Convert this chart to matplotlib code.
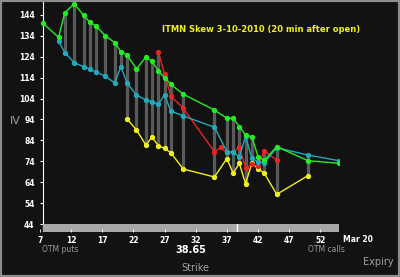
import matplotlib
matplotlib.use("Agg")
from matplotlib import pyplot as plt
from matplotlib.patches import Rectangle

# strike / IV, one list pair per series
green_k = [7.5, 10, 11, 12.5, 14, 15, 16, 17.5, 19, 20, 21, 22.5, 24, 25, 26, 27, 28, 30,
           35, 37, 38, 39, 40, 41, 42, 43, 45, 50, 55]
green_iv = [140.0, 133.3, 145.1, 149.3, 143.9, 140.5, 138.7, 134.1, 130.7, 126.4, 124.7, 118.2,
            123.8, 121.8, 117.3, 113.9, 110.8, 106.1, 98.5, 94.6, 94.6, 90.6, 86.5, 85.8,
            76.2, 74.5, 81.0, 74.3, 73.0]

cyan_k = [10, 11, 12.5, 14, 15, 16, 17.5, 19, 20, 21, 22.5, 24, 25, 26, 27, 28, 30,
          35, 37, 38, 39, 40, 41, 42, 43, 45, 50, 55]
cyan_iv = [131.4, 126.0, 121.2, 119.3, 118.0, 116.7, 114.7, 111.5, 119.3, 111.3, 105.7,
           103.3, 102.5, 101.3, 105.7, 98.1, 95.7, 90.3, 78.6, 78.3, 76.2, 86.0, 75.4,
           73.8, 73.3, 80.5, 77.0, 74.3]

red_k = [26, 27, 28, 30, 35, 36, 37, 38, 39, 40, 41, 42, 43, 45]
red_iv = [126.4, 115.8, 105.2, 99.4, 78.6, 80.6, 77.9, 78.3, 80.8, 70.8, 72.5, 71.8, 79.0, 74.6]

yellow_k = [21, 22.5, 24, 25, 26, 27, 28, 30, 35, 37, 38, 39, 40, 41, 42, 43, 45, 50]
yellow_iv = [94.2, 89.0, 81.8, 85.5, 81.5, 80.2, 78.1, 70.3, 66.5, 75.3, 68.3, 73.0, 63.3,
             73.0, 70.5, 68.3, 58.2, 67.1]

yticks = [44, 54, 64, 74, 84, 94, 104, 114, 124, 134, 144]
xticks = [7, 12, 17, 22, 27, 32, 37, 42, 47, 52]
spot = 38.65

bg = '#121212'
fig = plt.figure(figsize=(4, 2.77), dpi=100, facecolor=bg)
fig.patches.append(Rectangle((0, 0), 1, 1, transform=fig.transFigure, fill=False,
                             edgecolor='#8c8c8c', linewidth=3))

ax = fig.add_axes([0.0997, 0.1913, 0.748, 0.80], facecolor=bg)

# grey range bars: from lowest to highest IV at each strike
series = [(green_k, green_iv), (cyan_k, cyan_iv), (red_k, red_iv), (yellow_k, yellow_iv)]
vals = {}
for ks, ivs in series:
    for k, v in zip(ks, ivs):
        vals.setdefault(k, []).append(v)
for k, vs in vals.items():
    if len(vs) > 1:
        ax.vlines(k, min(vs), max(vs), color='#7a7a7a', linewidth=2.3, alpha=0.7, zorder=1)

ax.plot(yellow_k, yellow_iv, color='#f0f020', marker='o', markersize=2.8, linewidth=1, zorder=3)
ax.plot(red_k, red_iv, color='#ee2222', marker='o', markersize=2.8, linewidth=1, zorder=4)
ax.plot(cyan_k, cyan_iv, color='#22aabb', marker='o', markersize=2.8, linewidth=1, zorder=5)
ax.plot(green_k, green_iv, color='#22ee22', marker='o', markersize=2.8, linewidth=1, zorder=6)

ax.set_xlim(7, 55)
ax.set_ylim(44, 150)
for s in ['top', 'right', 'bottom']:
    ax.spines[s].set_visible(False)
ax.spines['left'].set_position(('data', 7.5))
ax.spines['left'].set_color('white')
ax.set_xticks([])
ax.set_yticks(yticks)
ax.tick_params(axis='y', colors='white', length=2, width=0.8, labelsize=5.5, pad=4)
for t in ax.get_yticklabels():
    t.set_fontweight('bold')

# strike strip under the plot
sx = fig.add_axes([0.0997, 0.1614, 0.748, 0.029])
sx.set_facecolor('none')
sx.axvspan(7.5, 55, color='#a8a8a8')
sx.axvline(spot, color='white', linewidth=1)
sx.set_xlim(7, 55)
sx.set_ylim(0, 1)
sx.set_yticks([])
for s in sx.spines.values():
    s.set_visible(False)
sx.set_xticks(xticks)
sx.tick_params(axis='x', colors='white', direction='in', length=2, width=0.6,
               labelsize=5.5, pad=3)
for t in sx.get_xticklabels():
    t.set_fontweight('bold')

fig.text(358 / 400, 1 - 239 / 277, 'Mar 20', color='white', fontsize=5.5, fontweight='bold',
         ha='center', va='center')
fig.text(60 / 400, 1 - 250 / 277, 'OTM puts', color='#9a9a9a', fontsize=5.5,
         ha='center', va='center')
fig.text(326 / 400, 1 - 250 / 277, 'OTM calls', color='#9a9a9a', fontsize=5.5,
         ha='center', va='center')
fig.text(191 / 400, 1 - 250 / 277, '38.65', color='white', fontsize=7, fontweight='bold',
         ha='center', va='center')
fig.text(195 / 400, 1 - 268 / 277, 'Strike', color='#a0a0a0', fontsize=7,
         ha='center', va='center')
fig.text(378 / 400, 1 - 262 / 277, 'Expiry', color='#a0a0a0', fontsize=7,
         ha='center', va='center')
fig.text(15 / 400, 1 - 121 / 277, 'IV', color='#a0a0a0', fontsize=8,
         ha='center', va='center')
fig.text(261 / 400, 1 - 30 / 277, 'ITMN Skew 3-10-2010 (20 min after open)', color='#f0f020',
         fontsize=6, fontweight='bold', ha='center', va='center')

fig.savefig('out.png', dpi=100, facecolor=bg)
